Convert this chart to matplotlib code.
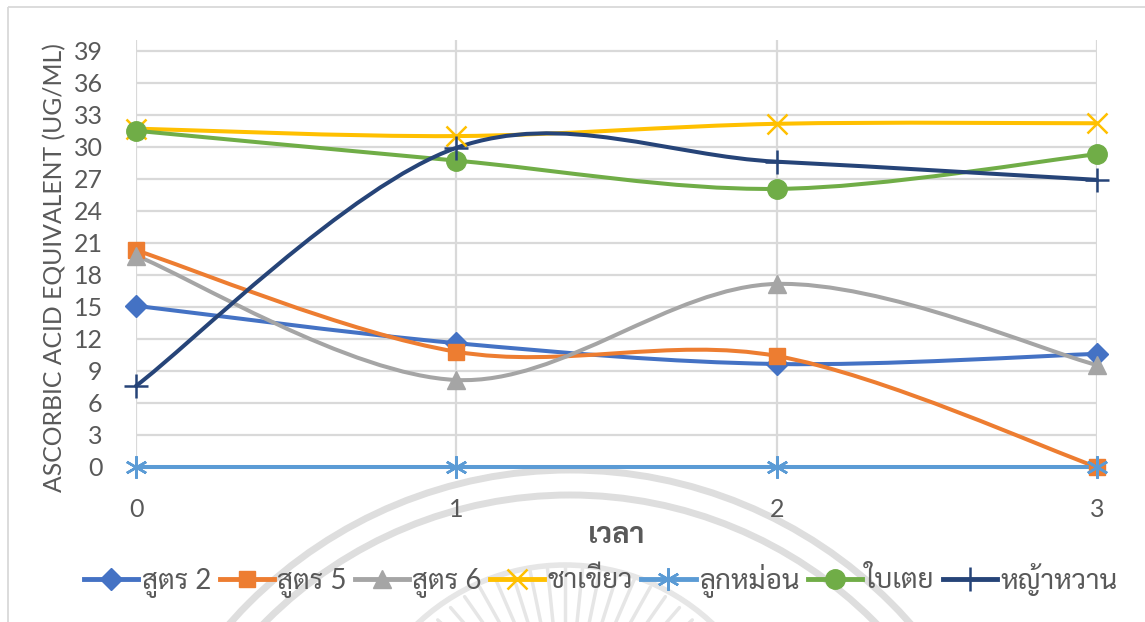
import matplotlib
matplotlib.use("Agg")
import matplotlib.pyplot as plt
import numpy as np
from matplotlib.path import Path
from matplotlib.patches import PathPatch, Circle, Rectangle

# time points and measured values
times = [0, 1, 2, 3]
sutr2 = [15.1, 11.6, 9.65, 10.6]
sutr5 = [20.3, 10.8, 10.4, 0.0]
sutr6 = [19.8, 8.15, 17.15, 9.55]
green_tea = [31.7, 31.0, 32.15, 32.2]
mulberry = [0.0, 0.0, 0.0, 0.0]
pandan = [31.5, 28.7, 26.05, 29.3]
stevia = [7.6, 29.9, 28.6, 26.9]

names = ["สูตร 2", "สูตร 5", "สูตร 6", "ชาเขียว", "ลูกหม่อน", "ใบเตย", "หญ้าหวาน"]
series = [sutr2, sutr5, sutr6, green_tea, mulberry, pandan, stevia]
colors = ["#4472C4", "#ED7D31", "#A5A5A5", "#FFC000", "#5B9BD5", "#70AD47", "#264478"]

yticks = list(range(0, 40, 3))
xticks = [0, 1, 2, 3]

markers = ["D", "s", "^", "x", (6, 2, 0), "o", "+"]
msizes = [11, 12, 13, 14, 16, 14, 17]
thin = [False, False, False, True, True, False, True]

txt = "#595959"
plt.rcParams["font.family"] = ["Lato", "Sarabun", "Noto Sans Thai", "DejaVu Sans"]


def smooth_path(xs, ys):
    # cubic bezier through the points, catmull-rom style tangents
    pts = np.column_stack([xs, ys]).astype(float)
    n = len(pts)
    verts = [pts[0]]
    codes = [Path.MOVETO]
    for i in range(n - 1):
        p0 = pts[i - 1] if i > 0 else pts[i]
        p1 = pts[i]
        p2 = pts[i + 1]
        p3 = pts[i + 2] if i + 2 < n else pts[i + 1]
        c1 = p1 + (p2 - p0) / 6.0
        c2 = p2 - (p3 - p1) / 6.0
        verts += [c1, c2, p2]
        codes += [Path.CURVE4] * 3
    return Path(verts, codes)


fig = plt.figure(figsize=(11.45, 6.22), dpi=100)
fig.patch.set_facecolor("white")

# background layer in pixel units: frame and faint seal
bg = fig.add_axes([0, 0, 1, 1], zorder=-1)
bg.set_xlim(0, 1145)
bg.set_ylim(622, 0)
bg.axis("off")
bg.add_patch(Rectangle((8, 7), 1200, 700, fill=False, ec="#D9D9D9", lw=1.3))
for r in [454, 429]:
    bg.add_patch(Circle((570, 924), r, fill=False, ec="#DEDEDE", lw=5))
for a in np.linspace(200, 340, 25):
    t = np.radians(a)
    bg.plot([565 + 70 * np.cos(t), 565 + 175 * np.cos(t)],
            [740 + 70 * np.sin(t), 740 + 175 * np.sin(t)],
            color="#E6E6E6", lw=2.5, solid_capstyle="round")
bg.add_patch(Circle((565, 780), 215, fill=False, ec="#E6E6E6", lw=4))

ax = fig.add_axes([136 / 1145, 155 / 622, 961 / 1145, 427 / 622])
ax.set_facecolor("none")

for name, ys, c, m, ms, th in zip(names, series, colors, markers, msizes, thin):
    mew = 1.8 if th else 1
    ax.add_patch(PathPatch(smooth_path(times, ys), fill=False, ec=c, lw=2.9,
                           capstyle="round", zorder=3, clip_on=False))
    ax.plot(times, ys, linestyle="none", marker=m, color=c, markersize=ms,
            markeredgewidth=mew, zorder=4, clip_on=False)
    # legend handle
    ax.plot([], [], color=c, lw=3.5, marker=m, markersize=ms,
            markeredgewidth=mew, label=name)

ax.set_xlim(0, 3)
ax.set_ylim(0, 40)
ax.set_xticks(xticks)
ax.set_yticks(yticks)
ax.grid(True, color="#D9D9D9", lw=1.6)
ax.set_axisbelow(True)
for s in ax.spines.values():
    s.set_visible(False)
ax.tick_params(length=0, labelcolor=txt, labelsize=18)
ax.tick_params(axis="y", pad=24)
ax.tick_params(axis="x", pad=22)

ax.set_xlabel("เวลา", fontsize=21, fontweight="bold", color=txt, labelpad=0,
              family=["Sarabun", "Noto Sans Thai", "DejaVu Sans"])
fig.text(55 / 1145, 1 - 268 / 622, "ASCORBIC ACID EQUIVALENT (UG/ML)", rotation=90,
         ha="center", va="center", fontsize=17.8, color=txt)

leg = fig.legend(loc="center", bbox_to_anchor=(601 / 1145, 1 - 580 / 622), ncol=7,
                 frameon=False, fontsize=20, handlelength=1.95, handletextpad=0.12,
                 columnspacing=0.3, borderaxespad=0)
for t in leg.get_texts():
    t.set_color(txt)

fig.savefig("out.png", dpi=100)
